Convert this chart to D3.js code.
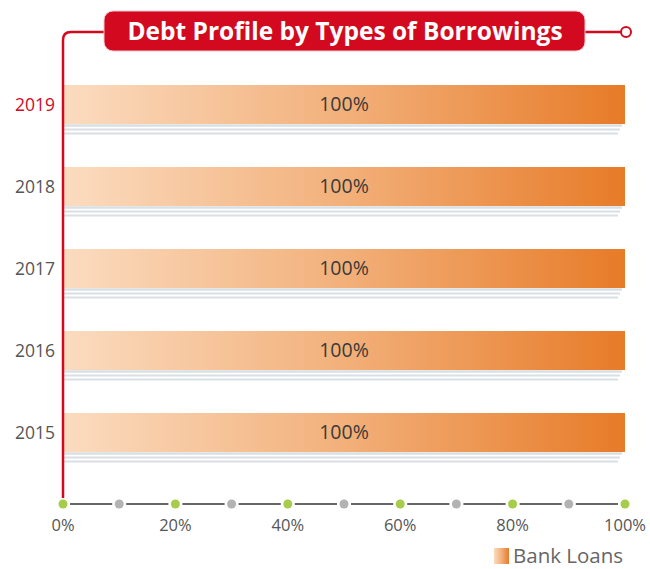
<!DOCTYPE html>
<html>
<head>
<meta charset="utf-8">
<script src="https://cdn.jsdelivr.net/npm/d3@7"></script>
<style>
  body { margin: 0; background: #fff; }
  text { font-family: "Open Sans", "Noto Sans", sans-serif; }
</style>
</head>
<body>
<svg id="chart" width="650" height="569"></svg>
<script>
var years = ['2019', '2018', '2017', '2016', '2015']
var bankLoans = [100, 100, 100, 100, 100]
var xTicks = [0, 10, 20, 30, 40, 50, 60, 70, 80, 90, 100]
var title = 'Debt Profile by Types of Borrowings'
var legendLabel = 'Bank Loans'

var red = '#d2091f'
var svg = d3.select('#chart')

var x = d3.scaleLinear().domain([0, 100]).range([63, 625])
var y = d3.scaleBand().domain(years).range([85, 452]).paddingInner(43 / 82).paddingOuter(0)

var defs = svg.append('defs')
var grad = defs.append('linearGradient').attr('id', 'bankGrad')
grad.append('stop').attr('offset', '0%').attr('stop-color', '#fbdcc0')
grad.append('stop').attr('offset', '50%').attr('stop-color', '#f2b07a')
grad.append('stop').attr('offset', '100%').attr('stop-color', '#e77b28')

// bars + shadow lines
var rows = svg.append('g').selectAll('g').data(years).join('g')

rows.append('rect')
  .attr('x', x(0))
  .attr('y', d => y(d))
  .attr('width', (d, i) => x(bankLoans[i]) - x(0))
  .attr('height', y.bandwidth())
  .attr('fill', 'url(#bankGrad)')

;[[1.5, 3, 2.5], [5.5, 5, 1.8], [9.5, 7, 1.8]].forEach(function(s){
  rows.append('line')
    .attr('x1', x(0))
    .attr('x2', (d, i) => x(bankLoans[i]) - s[1])
    .attr('y1', d => y(d) + y.bandwidth() + s[0])
    .attr('y2', d => y(d) + y.bandwidth() + s[0])
    .attr('stroke', '#d9dfe3')
    .attr('stroke-width', s[2])
})

rows.append('text')
  .attr('x', (d, i) => (x(0) + x(bankLoans[i])) / 2)
  .attr('y', d => y(d) + y.bandwidth() / 2)
  .attr('dy', '0.35em')
  .attr('text-anchor', 'middle')
  .attr('font-size', 19.5)
  .attr('fill', '#3a3a3a')
  .text((d, i) => bankLoans[i] + '%')

rows.append('text')
  .attr('x', 55)
  .attr('y', d => y(d) + y.bandwidth() / 2)
  .attr('dy', '0.35em')
  .attr('text-anchor', 'end')
  .attr('font-size', 17.5)
  .attr('fill', (d, i) => i == 0 ? red : '#555')
  .text(d => d)

// red frame line + title
svg.append('path')
  .attr('d', 'M' + x(0) + ',498 V40 Q' + x(0) + ',32 ' + (x(0) + 8) + ',32 H104')
  .attr('fill', 'none')
  .attr('stroke', red)
  .attr('stroke-width', 2.5)

svg.append('line')
  .attr('x1', 585).attr('x2', 621).attr('y1', 32).attr('y2', 32)
  .attr('stroke', red).attr('stroke-width', 2.5)
svg.append('circle')
  .attr('cx', 626).attr('cy', 32).attr('r', 5)
  .attr('fill', '#fff').attr('stroke', red).attr('stroke-width', 2)

svg.append('rect')
  .attr('x', 104).attr('y', 11).attr('width', 481).attr('height', 40).attr('rx', 9)
  .attr('fill', red).attr('stroke', '#f4c5cb').attr('stroke-width', 1)

svg.append('text')
  .attr('x', 345).attr('y', 31).attr('dy', '0.36em')
  .attr('text-anchor', 'middle')
  .attr('font-size', 24.5).attr('font-weight', 'bold')
  .attr('fill', '#fff')
  .text(title)

// x axis: dots joined by dashes
var axisY = 504
var ax = svg.append('g')
ax.selectAll('line').data(xTicks.slice(0, -1)).join('line')
  .attr('x1', d => x(d) + 7)
  .attr('x2', d => x(d + 10) - 7)
  .attr('y1', axisY).attr('y2', axisY)
  .attr('stroke', '#666').attr('stroke-width', 2)

ax.selectAll('circle').data(xTicks).join('circle')
  .attr('cx', d => x(d)).attr('cy', axisY).attr('r', 4.5)
  .attr('fill', d => d % 20 == 0 ? '#a6cc4a' : '#b3b3b3')

ax.selectAll('text').data(xTicks.filter(d => d % 20 == 0)).join('text')
  .attr('x', d => x(d)).attr('y', 525).attr('dy', '0.35em')
  .attr('text-anchor', 'middle')
  .attr('font-size', 16.5).attr('fill', '#555')
  .text(d => d + '%')

// legend (nudged up a little so the text is not clipped by the page edge)
var lg = svg.append('g').attr('transform', 'translate(494,548)')
lg.append('rect').attr('width', 15).attr('height', 16).attr('fill', 'url(#bankGrad)')
lg.append('text').attr('x', 19).attr('y', 15)
  .attr('font-size', 20.5).attr('fill', '#666')
  .text(legendLabel)
</script>
</body>
</html>
